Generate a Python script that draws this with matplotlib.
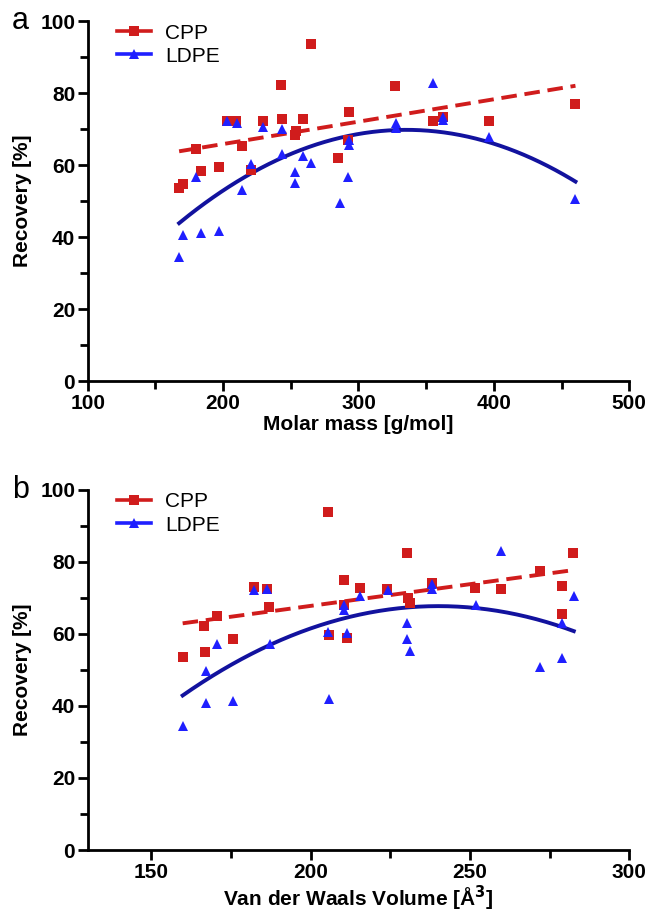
import numpy as np
import matplotlib
matplotlib.use("Agg")
import matplotlib.pyplot as plt
from matplotlib.ticker import MultipleLocator

# panel a: molar mass [g/mol]
cpp_mass = [167.5, 170, 179.9, 183.5, 197.1, 203, 209.4, 213.6, 220.5, 229.2, 242.5, 243.2,
            253, 253.5, 259.2, 264.7, 284.6, 293, 292.5, 327.2, 355.3, 362.3, 396.3, 460.3]
cpp_rec_a = [53.5, 54.7, 64.6, 58.4, 59.5, 72.2, 72.2, 65.3, 58.6, 72.2, 82.2, 72.7,
             68.3, 69.5, 72.9, 93.6, 61.9, 74.8, 67.1, 82, 72.2, 73.4, 72.2, 77]
ldpe_mass = [167.5, 170.5, 179.9, 183.3, 197.1, 203, 210, 213.6, 220.5, 229.2, 243.2, 243.2,
             253.3, 253.3, 259.2, 264.7, 286, 292, 293, 293, 327.5, 327.5, 355.3, 362.3, 362.3,
             396.3, 460.3]
ldpe_rec_a = [34.5, 40.7, 56.8, 41.2, 41.8, 72.3, 71.8, 53.1, 60.3, 70.5, 70, 63,
              58.1, 55.1, 62.5, 60.5, 49.6, 56.8, 67, 65.5, 71.8, 70.4, 82.9, 73.4, 72.4,
              67.9, 50.7]

# panel b: Van der Waals volume [A^3]
cpp_vol = [159.8, 166.8, 166.5, 170.7, 175.7, 182.3, 186.4, 187, 205.3, 205.6, 210.3, 215.5,
           223.9, 230.2, 230.7, 231.3, 238, 251.7, 259.6, 271.9, 278.9, 278.9, 282.4, 211.3, 210.3]
cpp_rec_b = [53.5, 54.9, 62.2, 65, 58.5, 72.9, 72.4, 67.6, 94, 59.7, 75, 72.7,
             72.5, 82.6, 69.9, 68.5, 74.1, 72.7, 72.4, 77.5, 73.3, 65.6, 82.4, 58.8, 68.1]
ldpe_vol = [159.8, 167, 175.7, 167, 170.7, 182.2, 186.4, 187.2, 205.3, 205.6, 211.3, 210.3,
            210.3, 215.5, 224.2, 230.2, 230.2, 231.3, 238, 238, 251.9, 259.6, 271.9, 279, 279, 282.6]
ldpe_rec_b = [34.4, 40.9, 41.4, 49.7, 57.1, 72.2, 72.5, 57.1, 60.6, 41.9, 60.4, 68.1,
              66.7, 70.6, 72.2, 63.1, 58.5, 55.3, 73.9, 72.4, 68.1, 83, 50.9, 53.2, 63, 70.4]

RED = '#d01c1c'
BLUE = '#1f1fff'
NAVY = '#12129e'

plt.rcParams['font.family'] = ['Liberation Sans', 'DejaVu Sans']

fig = plt.figure(figsize=(6.5, 9.14), dpi=100)
ax_a = fig.add_axes([0.135, 0.583, 0.833, 0.394])
ax_b = fig.add_axes([0.135, 0.070, 0.833, 0.394])


def draw_panel(ax, xc, yc, xl, yl, xlim, major, minor, xlabel, letter):
    # fits: linear for CPP, quadratic for LDPE
    xs = np.linspace(min(xc), max(xc), 200)
    ax.plot(xs, np.polyval(np.polyfit(xc, yc, 1), xs), color=RED, lw=2.8,
            ls=(0, (4, 2)), zorder=2)
    xs = np.linspace(min(xl), max(xl), 200)
    ax.plot(xs, np.polyval(np.polyfit(xl, yl, 2), xs), color=NAVY, lw=2.8, zorder=2)
    ax.plot(xc, yc, 's', color=RED, ms=7.5, mew=0, zorder=3)
    ax.plot(xl, yl, '^', color=BLUE, ms=7.5, mew=0, zorder=4)

    # legend handles
    ax.plot([], [], color=RED, lw=2.6, marker='s', ms=7, mew=0, label='CPP')
    ax.plot([], [], color=BLUE, lw=2.6, marker='^', ms=7, mew=0, label='LDPE')
    ax.legend(loc='upper left', bbox_to_anchor=(0.02, 1.045), frameon=False, fontsize=15,
              handlelength=1.6, handletextpad=0.7, labelspacing=0.2)

    ax.set_xlim(*xlim)
    ax.set_ylim(0, 100)
    ax.xaxis.set_major_locator(MultipleLocator(major))
    ax.xaxis.set_minor_locator(MultipleLocator(minor))
    ax.yaxis.set_major_locator(MultipleLocator(20))
    ax.yaxis.set_minor_locator(MultipleLocator(10))
    for s in ['top', 'right']:
        ax.spines[s].set_visible(False)
    for s in ['left', 'bottom']:
        ax.spines[s].set_linewidth(2)
    ax.tick_params(which='major', length=7, width=2, labelsize=15, pad=2)
    ax.tick_params(which='minor', length=6, width=2)
    for lab in ax.get_xticklabels() + ax.get_yticklabels():
        lab.set_fontweight('bold')
    ax.set_xlabel(xlabel, fontsize=15, fontweight='bold', labelpad=2)
    ax.set_ylabel('Recovery [%]', fontsize=15, fontweight='bold', labelpad=6)
    ax.text(-0.125, 1.0, letter, transform=ax.transAxes, fontsize=22, va='center',
            ha='center')


draw_panel(ax_a, cpp_mass, cpp_rec_a, ldpe_mass, ldpe_rec_a, (100, 500), 100, 50,
           'Molar mass [g/mol]', 'a')
draw_panel(ax_b, cpp_vol, cpp_rec_b, ldpe_vol, ldpe_rec_b, (130, 300), 50, 25,
           'Van der Waals Volume [Å$^\\mathbf{3}$]', 'b')
ax_b.set_xticks([150, 200, 250, 300])

fig.savefig('out.png', dpi=100)
